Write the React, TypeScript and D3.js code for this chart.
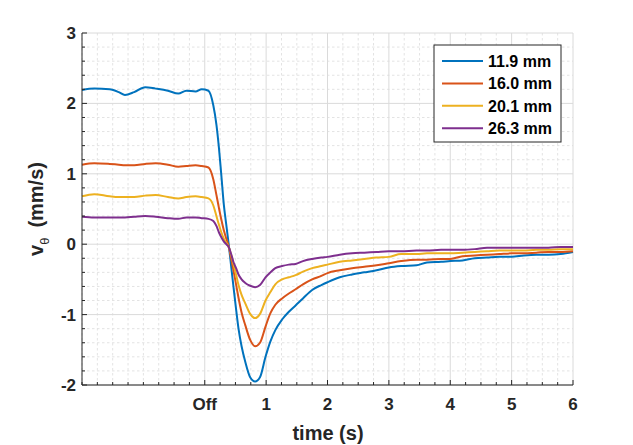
import React from "react";
import * as d3 from "d3";

// chart size and plot area
const WIDTH = 633;
const HEIGHT = 445;
const LEFT = 82;
const RIGHT = 573;
const TOP = 33;
const BOTTOM = 385;

// data
const time: number[] = [
  -2, -1.8, -1.55, -1.4, -1.3, -1.15, -0.97, -0.8, -0.6, -0.43, -0.3, -0.15, -0.05, 0.06,
  0.14, 0.19, 0.23, 0.27, 0.31, 0.35, 0.39, 0.43, 0.47, 0.51, 0.55, 0.6, 0.66, 0.74, 0.82,
  0.9, 0.99, 1.07, 1.15, 1.26, 1.37, 1.48,
  1.6, 1.75, 1.9, 2.0, 2.2, 2.4, 2.6, 2.8, 3.0, 3.2, 3.45, 3.62, 3.85, 4.0, 4.2, 4.4, 4.6,
  4.8, 5.0, 5.2, 5.4, 5.6, 5.8, 6.0,
];

const v119: number[] = [
  2.19, 2.21, 2.2, 2.16, 2.12, 2.16, 2.23, 2.21, 2.18, 2.14, 2.18, 2.17, 2.2, 2.18,
  1.97, 1.7, 1.38, 0.98, 0.57, 0.28, 0.0, -0.31, -0.62, -0.92, -1.2, -1.45, -1.67, -1.89, -1.95,
  -1.89, -1.6, -1.38, -1.22, -1.07, -0.96, -0.87,
  -0.77, -0.65, -0.58, -0.54, -0.47, -0.43, -0.4, -0.37, -0.33, -0.31, -0.3, -0.26, -0.25,
  -0.24, -0.23, -0.2, -0.19, -0.18, -0.18, -0.16, -0.15, -0.15, -0.14, -0.11,
];

const v160: number[] = [
  1.13, 1.15, 1.14, 1.13, 1.12, 1.12, 1.14, 1.15, 1.13, 1.1, 1.11, 1.12, 1.11, 1.09,
  0.92, 0.7, 0.52, 0.35, 0.2, 0.08, -0.03, -0.2, -0.38, -0.57, -0.76, -0.97, -1.15, -1.36, -1.45,
  -1.4, -1.17, -0.98, -0.86, -0.77, -0.7, -0.64,
  -0.57, -0.5, -0.45, -0.41, -0.37, -0.34, -0.32, -0.3, -0.27, -0.24, -0.22, -0.22, -0.21,
  -0.21, -0.17, -0.16, -0.15, -0.14, -0.13, -0.13, -0.12, -0.11, -0.11, -0.1,
];

const v201: number[] = [
  0.68, 0.71, 0.68, 0.67, 0.67, 0.67, 0.69, 0.7, 0.67, 0.65, 0.67, 0.68, 0.67, 0.65,
  0.55, 0.4, 0.28, 0.17, 0.08, 0.02, -0.04, -0.15, -0.29, -0.43, -0.58, -0.72, -0.84, -0.99, -1.05,
  -0.99, -0.8, -0.68, -0.57, -0.5, -0.47, -0.44,
  -0.39, -0.34, -0.31, -0.29, -0.25, -0.23, -0.21, -0.19, -0.18, -0.14, -0.14, -0.13, -0.13,
  -0.13, -0.12, -0.11, -0.1, -0.09, -0.09, -0.09, -0.08, -0.08, -0.07, -0.07,
];

const v263: number[] = [
  0.39, 0.38, 0.38, 0.38, 0.38, 0.39, 0.4, 0.39, 0.37, 0.36, 0.38, 0.38, 0.37, 0.36,
  0.33, 0.26, 0.17, 0.1, 0.04, 0.0, -0.04, -0.14, -0.26, -0.34, -0.43, -0.5, -0.55, -0.59, -0.61,
  -0.58, -0.47, -0.4, -0.34, -0.31, -0.29, -0.28,
  -0.24, -0.21, -0.19, -0.18, -0.15, -0.13, -0.12, -0.11, -0.1, -0.1, -0.09, -0.09, -0.08,
  -0.08, -0.08, -0.07, -0.05, -0.05, -0.05, -0.05, -0.05, -0.05, -0.04, -0.04,
];

const seriesNames: string[] = ["11.9 mm", "16.0 mm", "20.1 mm", "26.3 mm"];
const seriesValues: number[][] = [v119, v160, v201, v263];
const colors: string[] = ["#0072BD", "#D95319", "#EDB120", "#7E2F8E"];

const xTicks: number[] = [0, 1, 2, 3, 4, 5, 6];
const xTickLabels: string[] = ["Off", "1", "2", "3", "4", "5", "6"];
const yTicks: number[] = [-2, -1, 0, 1, 2, 3];

const FONT = "'Liberation Sans', Arial, Helvetica, sans-serif";
const AXIS = "#262626";

const App: React.FC = () => {
  const x = d3.scaleLinear().domain([-2, 6]).range([LEFT, RIGHT]);
  const y = d3.scaleLinear().domain([-2, 3]).range([BOTTOM, TOP]);

  const xMinor = d3.range(-2, 6.001, 0.25).filter((d) => !xTicks.some((t) => Math.abs(t - d) < 1e-6));
  const yMinor = d3.range(-2, 3.001, 0.2).filter((d) => !yTicks.some((t) => Math.abs(t - d) < 1e-6));

  const line = d3
    .line<[number, number]>()
    .x((d) => x(d[0]))
    .y((d) => y(d[1]))
    .curve(d3.curveMonotoneX);

  const legendX = 434;
  const legendY = 45;
  const rowH = 22.4;

  return (
    <svg
      width={WIDTH}
      height={HEIGHT}
      style={{ position: "fixed", left: 0, top: 0, background: "#fff" }}
      fontFamily={FONT}
    >
      {/* minor grid */}
      <g stroke="#e3e3e3" strokeWidth={1} strokeDasharray="2.5,2.5">
        {xMinor.map((d) => (
          <line key={"xm" + d} x1={x(d)} x2={x(d)} y1={TOP} y2={BOTTOM} />
        ))}
        {yMinor.map((d) => (
          <line key={"ym" + d} x1={LEFT} x2={RIGHT} y1={y(d)} y2={y(d)} />
        ))}
      </g>
      {/* major grid */}
      <g stroke="#dadada" strokeWidth={1}>
        {xTicks.map((d) => (
          <line key={"xg" + d} x1={x(d)} x2={x(d)} y1={TOP} y2={BOTTOM} />
        ))}
        {yTicks.map((d) => (
          <line key={"yg" + d} x1={LEFT} x2={RIGHT} y1={y(d)} y2={y(d)} />
        ))}
      </g>

      {/* curves */}
      <g fill="none" strokeWidth={2} strokeLinejoin="round">
        {seriesValues.map((vals, i) => (
          <path
            key={seriesNames[i]}
            d={line(time.map((t, j) => [t, vals[j]] as [number, number])) || ""}
            stroke={colors[i]}
          />
        ))}
      </g>

      {/* axes */}
      <g stroke={AXIS} strokeWidth={1}>
        <line x1={LEFT} x2={RIGHT} y1={BOTTOM} y2={BOTTOM} />
        <line x1={LEFT} x2={LEFT} y1={TOP} y2={BOTTOM} />
        {xTicks.map((d) => (
          <line key={"xt" + d} x1={x(d)} x2={x(d)} y1={BOTTOM} y2={BOTTOM - 5} />
        ))}
        {xMinor.map((d) => (
          <line key={"xmt" + d} x1={x(d)} x2={x(d)} y1={BOTTOM} y2={BOTTOM - 3} />
        ))}
        {yTicks.map((d) => (
          <line key={"yt" + d} x1={LEFT} x2={LEFT + 5} y1={y(d)} y2={y(d)} />
        ))}
        {yMinor.map((d) => (
          <line key={"ymt" + d} x1={LEFT} x2={LEFT + 3} y1={y(d)} y2={y(d)} />
        ))}
      </g>

      {/* tick labels */}
      <g fill={AXIS} fontWeight="bold" fontSize={17}>
        {xTicks.map((d, i) => (
          <text key={"xl" + d} x={x(d)} y={410} textAnchor="middle">
            {xTickLabels[i]}
          </text>
        ))}
        {yTicks.map((d) => (
          <text key={"yl" + d} x={76} y={y(d) + 6} textAnchor="end">
            {d}
          </text>
        ))}
      </g>

      {/* axis labels */}
      <text x={328} y={440} textAnchor="middle" fontWeight="bold" fontSize={20} fill={AXIS}>
        time (s)
      </text>
      <text
        transform="translate(43, 209) rotate(-90)"
        textAnchor="middle"
        fontWeight="bold"
        fontSize={20}
        fill={AXIS}
      >
        v
        <tspan fontSize={13} dy={6} fontWeight="normal">
          θ
        </tspan>
        <tspan dy={-6} dx={10}>
          (mm/s)
        </tspan>
      </text>

      {/* legend */}
      <rect
        x={legendX}
        y={legendY}
        width={127}
        height={97}
        fill="#fff"
        stroke={AXIS}
        strokeWidth={1}
      />
      {seriesNames.map((name, i) => {
        const cy = 61 + i * rowH;
        return (
          <g key={"lg" + name}>
            <line x1={442} x2={483} y1={cy} y2={cy} stroke={colors[i]} strokeWidth={2} />
            <text x={488} y={cy + 5.7} fontWeight="bold" fontSize={16} fill="#000">
              {name}
            </text>
          </g>
        );
      })}
    </svg>
  );
};

export default App;
